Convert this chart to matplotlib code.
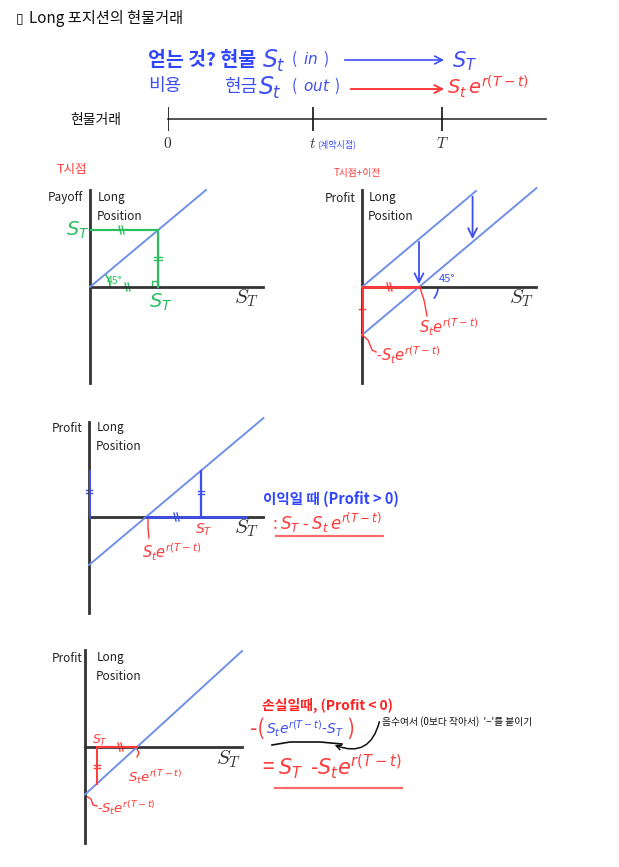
import numpy as np
import matplotlib.pyplot as plt
from matplotlib.patches import FancyArrowPatch, Arc

plt.rcParams['font.family'] = ['Noto Sans CJK KR', 'DejaVu Sans']

W, H = 619, 867

# timeline (units: T = 10)
time_ticks = [0.0, 5.3, 10.0]
time_end = 13.8

# panel 1: payoff at T
p1_st = [0.0, 10.0]
p1_payoff = [0.0, 10.0]
p1_mark = 5.9

# forward price S_t e^{r(T-t)} in chart units
F = 5.0

# panel 2: payoff line and profit line
p2_up_x = [0.0, 10.0]
p2_up_y = [0.0, 10.0]
p2_lo_x = [0.0, 15.3]
p2_arrow_x = [F, 9.7]

# panel 3: profit > 0
p3_x = [0.0, 15.3]
p3_mark = 9.8

# panel 4: profit < 0
p4_x = [0.0, 15.1]
p4_mark = 1.15

BLUE_LINE = '#7090e8'
BLUE_TXT = '#3d4ef5'
BLUE_BOLD = '#2f45ff'
RED = '#ff3a3a'
GREEN = '#2bbf5f'
AX = '#333333'

fig = plt.figure(figsize=(W / 100, H / 100), dpi=100)
ov = fig.add_axes([0, 0, 1, 1])
ov.set_xlim(0, W)
ov.set_ylim(H, 0)
ov.axis('off')


def panel(ox, oy, sx, sy, xmax, ymin, ymax):
    left, right = ox, ox + xmax * sx
    top, bot = oy - ymax * sy, oy - ymin * sy
    ax = fig.add_axes([left / W, 1 - bot / H, (right - left) / W, (bot - top) / H])
    ax.set_xlim(0, xmax)
    ax.set_ylim(ymin, ymax)
    ax.axis('off')
    ax.plot([0, xmax], [0, 0], color=AX, lw=2, clip_on=False, zorder=2)
    ax.plot([0, 0], [ymin, ymax], color=AX, lw=2, clip_on=False, zorder=2)
    return ax


def arrow(ax, p0, p1, color, lw=1.2, ms=14, conn='arc3'):
    ax.add_patch(FancyArrowPatch(p0, p1, arrowstyle='->', mutation_scale=ms,
                                 color=color, lw=lw, clip_on=False,
                                 connectionstyle=conn))


def hand(x, y, s, color, size=13, **kw):
    ov.text(x, y, s, color=color, fontsize=size, va='center',
            math_fontfamily='dejavusans', fontweight='light', **kw)


def axis_label(x, y):
    ov.text(x, y, '$S_T$', fontsize=15, color=AX, math_fontfamily='cm',
            ha='center', va='center')


def label_block(x_left, x_long, y, first):
    ov.text(x_left, y, first, fontsize=8.5, va='center', color='#222222')
    ov.text(x_long, y, 'Long', fontsize=8.5, va='center', color='#222222')
    ov.text(x_long - 1, y + 19, 'Position', fontsize=8.5, va='center',
            color='#222222')


# ---- header ----
ov.text(16, 18, '\u25af', fontsize=10, va='center', color='#111111',
        family='DejaVu Sans')
ov.text(29, 18, 'Long 포지션의 현물거래', fontsize=11, va='center',
        fontweight='medium', color='#111111')

ov.text(148, 60, '얻는 것? 현물', fontsize=14, fontweight='bold',
        color=BLUE_BOLD, va='center')
hand(262, 61, '$S_t$', BLUE_TXT, 17)
hand(291, 59, '(  $in$  )', BLUE_TXT, 11)
arrow(ov, (342, 60), (447, 60), BLUE_TXT, 1.2, 14)
hand(452, 61, '$S_T$', BLUE_TXT, 15)

hand(148, 86, '비용', BLUE_TXT, 13)
hand(224, 87, '현금', BLUE_TXT, 13)
hand(258, 88, '$S_t$', BLUE_TXT, 17)
hand(291, 86, '(  $out$  )', BLUE_TXT, 11)
arrow(ov, (348, 89), (447, 89), RED, 1.4, 14)
hand(447, 87, '$S_t\\,e^{r(T-t)}$', RED, 14)

# ---- timeline ----
tl = fig.add_axes([168 / W, 1 - 131 / H, time_end * 27.4 / W, 24 / H])
tl.set_xlim(0, time_end)
tl.set_ylim(-1, 1)
tl.axis('off')
tl.plot([0, time_end], [0, 0], color=AX, lw=1.2, clip_on=False)
tl.vlines(time_ticks, -1, 1, color='#111111', lw=1.2)
ov.text(70, 120, '현물거래', fontsize=10, va='center', color='#111111')
for xt, s in zip([168, 313, 442], ['$0$', '$t$', '$T$']):
    ov.text(xt, 143, s, fontsize=11, ha='center', va='center',
            math_fontfamily='cm', color=AX)
ov.text(317, 144, '(계약시점)', fontsize=6.5, va='center', color=BLUE_TXT)

# ---- panel 1 ----
ax1 = panel(90, 287, 11.6, 9.7, 14.9, -9.9, 10.0)
ax1.plot(p1_st, p1_payoff, color=BLUE_LINE, lw=1.4, clip_on=False)
ax1.plot([0, p1_mark, p1_mark], [p1_mark, p1_mark, 0], color=GREEN, lw=1.6,
         zorder=3)
ov.text(57, 170, 'T시점', color=RED, fontsize=9, va='center', fontweight='light')
label_block(48, 98, 198, 'Payoff')
hand(66, 230, '$S_T$', GREEN, 14)
hand(149, 302, '$S_T$', GREEN, 14)
axis_label(247, 298)
ov.add_patch(Arc((90, 287), 40, 40, theta1=-40, theta2=0, color=GREEN, lw=1.2))
ov.text(107, 281, '45°', color=GREEN, fontsize=7.5, va='center')
ov.plot([119, 121], [226, 234], color=GREEN, lw=1)
ov.plot([122, 124], [226, 234], color=GREEN, lw=1)
ov.plot([154, 162], [257, 257], color=GREEN, lw=1)
ov.plot([154, 162], [260, 260], color=GREEN, lw=1)
ov.plot([125, 127], [283, 291], color=GREEN, lw=1)
ov.plot([128, 130], [283, 291], color=GREEN, lw=1)
ov.plot([152, 152, 156], [287, 281, 281], color=GREEN, lw=1)

# ---- panel 2 ----
ax2 = panel(362, 287, 11.4, 9.6, 15.3, -10.0, 10.1)
ax2.plot(p2_up_x, p2_up_y, color=BLUE_LINE, lw=1.4, clip_on=False)
ax2.plot(p2_lo_x, np.array(p2_lo_x) - F, color=BLUE_LINE, lw=1.4, clip_on=False)
for xa in p2_arrow_x:
    arrow(ax2, (xa, xa), (xa, xa - F), BLUE_TXT, 1.3, 16)
ax2.plot([0, F], [0, 0], color=RED, lw=2, zorder=3)
ax2.plot([0, 0], [0, -F], color=RED, lw=2, zorder=3)
ov.text(334, 173, 'T시점+이전', color=RED, fontsize=7, va='center',
        fontweight='light')
label_block(325, 369, 198, 'Profit')
ov.add_patch(Arc((420, 287), 36, 36, theta1=0, theta2=40, color=BLUE_TXT, lw=1.2))
ov.text(439, 279, '45°', color=BLUE_TXT, fontsize=8, va='center')
axis_label(522, 298)
ov.plot([420, 424, 427], [288, 300, 316], color=RED, lw=1)
hand(419, 327, '$S_t e^{r(T-t)}$', RED, 10.5)
ov.plot([362, 368, 372, 376], [335, 340, 350, 352], color=RED, lw=1)
hand(376, 355, '-$S_t e^{r(T-t)}$', RED, 10.5)
ov.plot([387, 389], [283, 291], color=RED, lw=1)
ov.plot([390, 392], [283, 291], color=RED, lw=1)
ov.plot([359, 365], [309, 309], color=RED, lw=1)

# ---- panel 3 ----
ax3 = panel(89, 517, 11.4, 9.6, 15.3, -10.0, 9.9)
ax3.plot(p3_x, np.array(p3_x) - F, color=BLUE_LINE, lw=1.4, clip_on=False)
ax3.plot([p3_mark, p3_mark], [0, p3_mark - F], color=BLUE_TXT, lw=1.6, zorder=3)
ax3.plot([F, 13.8], [0, 0], color=BLUE_TXT, lw=1.8, zorder=3)
ax3.plot([0, 0], [0, p3_mark - F], color=BLUE_TXT, lw=2, zorder=3)
label_block(52, 97, 428, 'Profit')
axis_label(247, 528)
ov.plot([86, 92], [490, 490], color=BLUE_TXT, lw=1)
ov.plot([86, 92], [493, 493], color=BLUE_TXT, lw=1)
ov.plot([198, 204], [491, 491], color=BLUE_TXT, lw=1)
ov.plot([198, 204], [494, 494], color=BLUE_TXT, lw=1)
ov.plot([174, 176], [513, 521], color=BLUE_TXT, lw=1)
ov.plot([177, 179], [513, 521], color=BLUE_TXT, lw=1)
ov.plot([148, 148, 149], [517, 528, 538], color=RED, lw=1)
hand(195, 530, '$S_T$', RED, 10)
hand(142, 552, '$S_t e^{r(T-t)}$', RED, 10.5)
ov.text(263, 499, '이익일 때 (Profit > 0)', fontsize=10.5, fontweight='bold',
        color=BLUE_BOLD, va='center')
hand(272, 523, ': $S_T$ - $S_t\\,e^{r(T-t)}$', RED, 12)
ov.plot([276, 383], [536, 536], color='#ff6b6b', lw=1.6)

# ---- panel 4 ----
ax4 = panel(85, 747, 10.4, 9.5, 15.1, -10.1, 10.2)
ax4.plot(p4_x, np.array(p4_x) - F, color=BLUE_LINE, lw=1.4, clip_on=False)
ax4.plot([p4_mark, F], [0, 0], color=RED, lw=1.6, zorder=3)
ax4.plot([p4_mark, p4_mark], [0, p4_mark - F], color=RED, lw=1.4, zorder=3)
label_block(52, 97, 658, 'Profit')
axis_label(229, 759)
hand(92, 740, '$S_T$', RED, 9)
ov.plot([118, 120], [743, 751], color=RED, lw=1)
ov.plot([121, 123], [743, 751], color=RED, lw=1)
ov.plot([94, 100], [765, 765], color=RED, lw=1)
ov.plot([94, 100], [768, 768], color=RED, lw=1)
ov.plot([137, 139, 137], [749, 753, 757], color=RED, lw=1)
hand(128, 777, '$S_t e^{r(T-t)}$', RED, 9.5)
ov.plot([86, 91, 93, 97], [796, 799, 805, 806], color=RED, lw=1)
hand(97, 808, '-$S_t e^{r(T-t)}$', RED, 9.5)

ov.text(262, 705, '손실일때, (Profit < 0)', fontsize=10, fontweight='bold',
        color='#ff2020', va='center')
hand(250, 729, '-(', RED, 15)
hand(266, 729, '$S_t e^{r(T-t)}$-$S_T$', BLUE_TXT, 10)
hand(347, 729, ')', RED, 15)
ov.plot([272, 290, 320, 342], [745, 742, 742, 744], color='#111111', lw=1.2)
arrow(ov, (380, 719), (332, 744), '#111111', 1.1, 9, 'arc3,rad=-0.6')
ov.text(382, 722, "음수여서 (0보다 작아서)  '−'를 붙이기", fontsize=7,
        va='center', color='#111111', fontweight='light')
hand(262, 767, '= $S_T$  -$S_t e^{r(T-t)}$', RED, 15)
ov.plot([275, 402], [788, 788], color='#ff6b6b', lw=1.6)

fig.savefig('out.png', dpi=100)
